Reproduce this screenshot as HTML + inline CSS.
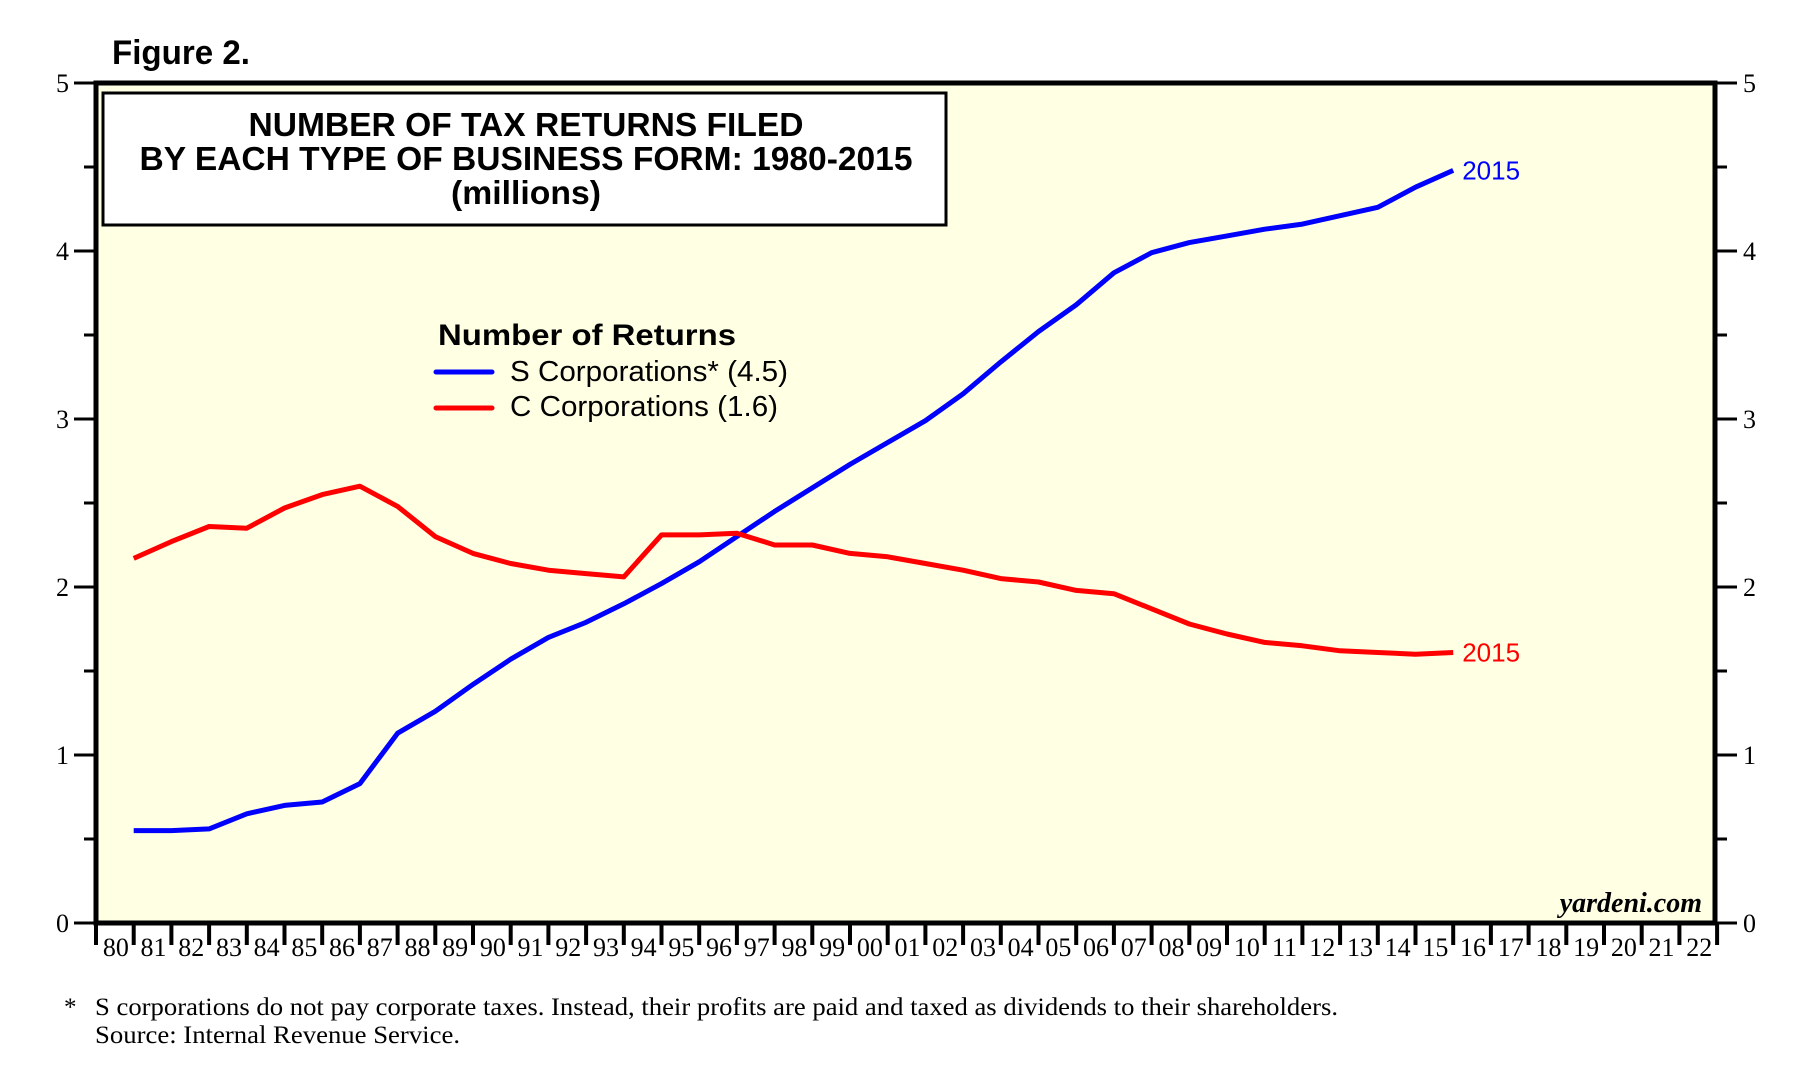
<!DOCTYPE html>
<html><head><meta charset="utf-8"><style>
html,body{margin:0;padding:0;background:#fff;}
svg{display:block;}
</style></head><body>
<svg id="chart" xmlns="http://www.w3.org/2000/svg" width="1815" height="1072" viewBox="0 0 1815 1072">
<rect x="0" y="0" width="1815" height="1072" fill="#ffffff"/>
<text x="112" y="64" font-family="Liberation Sans, sans-serif" font-weight="bold" font-size="34" textLength="138" lengthAdjust="spacingAndGlyphs">Figure 2.</text>
<rect x="96" y="83" width="1619" height="840" fill="#ffffe3"/>
<g id="marks"></g>
<rect x="96" y="83" width="1619" height="840" fill="none" stroke="#000" stroke-width="5"/>
<rect x="103" y="93" width="843" height="132" fill="#fff" stroke="#000" stroke-width="3"/>
<g font-family="Liberation Sans, sans-serif" font-weight="bold" font-size="33" text-anchor="middle">
<text x="526" y="136" textLength="555" lengthAdjust="spacingAndGlyphs">NUMBER OF TAX RETURNS FILED</text>
<text x="526" y="170" textLength="773" lengthAdjust="spacingAndGlyphs">BY EACH TYPE OF BUSINESS FORM: 1980-2015</text>
<text x="526" y="204" textLength="150" lengthAdjust="spacingAndGlyphs">(millions)</text>
</g>
<g font-family="Liberation Sans, sans-serif">
<text x="438" y="345" font-weight="bold" font-size="30" textLength="298" lengthAdjust="spacingAndGlyphs">Number of Returns</text>
<line x1="436" y1="372" x2="492" y2="372" stroke="#0000ff" stroke-width="5" stroke-linecap="round"/>
<text x="510" y="381" font-size="29" textLength="278" lengthAdjust="spacingAndGlyphs">S Corporations* (4.5)</text>
<line x1="436" y1="408" x2="492" y2="408" stroke="#ff0000" stroke-width="5" stroke-linecap="round"/>
<text x="510" y="416" font-size="29" textLength="268" lengthAdjust="spacingAndGlyphs">C Corporations (1.6)</text>
</g>
<text x="1702" y="912" text-anchor="end" font-family="Liberation Serif, serif" font-style="italic" font-weight="bold" font-size="28">yardeni.com</text>
<g font-family="Liberation Serif, serif" font-size="25">
<text x="64" y="1015">*</text>
<text x="95" y="1015" textLength="1243" lengthAdjust="spacingAndGlyphs">S corporations do not pay corporate taxes. Instead, their profits are paid and taxed as dividends to their shareholders.</text>
<text x="95" y="1043" textLength="365" lengthAdjust="spacingAndGlyphs">Source: Internal Revenue Service.</text>
</g>
</svg>
<script>
const years = [1980,1981,1982,1983,1984,1985,1986,1987,1988,1989,1990,1991,1992,1993,1994,1995,1996,1997,1998,1999,2000,2001,2002,2003,2004,2005,2006,2007,2008,2009,2010,2011,2012,2013,2014,2015];
const sCorp = [0.55,0.55,0.56,0.65,0.70,0.72,0.83,1.13,1.26,1.42,1.57,1.70,1.79,1.90,2.02,2.15,2.30,2.45,2.59,2.73,2.86,2.99,3.15,3.34,3.52,3.68,3.87,3.99,4.05,4.09,4.13,4.16,4.21,4.26,4.38,4.48];
const cCorp = [2.17,2.27,2.36,2.35,2.47,2.55,2.60,2.48,2.30,2.20,2.14,2.10,2.08,2.06,2.31,2.31,2.32,2.25,2.25,2.20,2.18,2.14,2.10,2.05,2.03,1.98,1.96,1.87,1.78,1.72,1.67,1.65,1.62,1.61,1.60,1.61];
const yTicks = [0,1,2,3,4,5];
const xTickLabels = ['80','81','82','83','84','85','86','87','88','89','90','91','92','93','94','95','96','97','98','99','00','01','02','03','04','05','06','07','08','09','10','11','12','13','14','15','16','17','18','19','20','21','22'];

const NS='http://www.w3.org/2000/svg';
const X0=96, STEP=37.7, Y0=923, YU=168;
function xTick(i){return X0+i*STEP;}
function xYear(y){return X0+(y-1979)*STEP;}
function yVal(v){return Y0-v*YU;}
const svg=document.getElementById('chart');
function mk(tag,attrs,parent){const e=document.createElementNS(NS,tag);for(const k in attrs)e.setAttribute(k,attrs[k]);(parent||svg).appendChild(e);return e;}

yTicks.forEach((v,i)=>{
  const y=yVal(v);
  let t=mk('line',{x1:X0-22,y1:y,x2:X0,y2:y,stroke:'#000','stroke-width':3});
  
  
  let t2=mk('line',{x1:1715,y1:y,x2:1737,y2:y,stroke:'#000','stroke-width':3});
  
  
  let l=mk('text',{x:X0-27,y:y+9,'text-anchor':'end','font-family':'Liberation Serif, serif','font-size':26});
  l.textContent=v;
  
  
  let r=mk('text',{x:1743,y:y+9,'font-family':'Liberation Serif, serif','font-size':26});
  r.textContent=v;
  
  
  if(i<yTicks.length-1){
    const ym=yVal(v+0.5);
    let m=mk('line',{x1:X0-12,y1:ym,x2:X0,y2:ym,stroke:'#000','stroke-width':3});
    
    
    let m2=mk('line',{x1:1715,y1:ym,x2:1727,y2:ym,stroke:'#000','stroke-width':3});
    
    
  }
});
for(let i=0;i<=xTickLabels.length;i++){
  const x=xTick(i);
  let t=mk('line',{x1:x,y1:Y0,x2:x,y2:Y0+22,stroke:'#000','stroke-width':4});
  
  
}
xTickLabels.forEach((s,i)=>{
  let l=mk('text',{x:xTick(i)+STEP/2+1,y:956,'text-anchor':'middle','font-family':'Liberation Serif, serif','font-size':26});
  l.textContent=s;
  
  
});
const marks=document.getElementById('marks');
function series(vals,color,name){
  const pts=vals.map((v,i)=>xYear(years[i]).toFixed(1)+','+yVal(v).toFixed(1)).join(' ');
  let p=mk('polyline',{points:pts,fill:'none',stroke:color,'stroke-width':5,'stroke-linejoin':'round'},marks);
  
  
  const last=vals.length-1;
  let lb=mk('text',{x:xYear(years[last])+9,y:yVal(vals[last])+9,fill:color,'font-family':'Liberation Sans, sans-serif','font-size':26},marks);
  lb.textContent=years[last];
  
  
}
series(sCorp,'#0000ff','s-corporations-line');
series(cCorp,'#ff0000','c-corporations-line');
</script>
</body></html>
